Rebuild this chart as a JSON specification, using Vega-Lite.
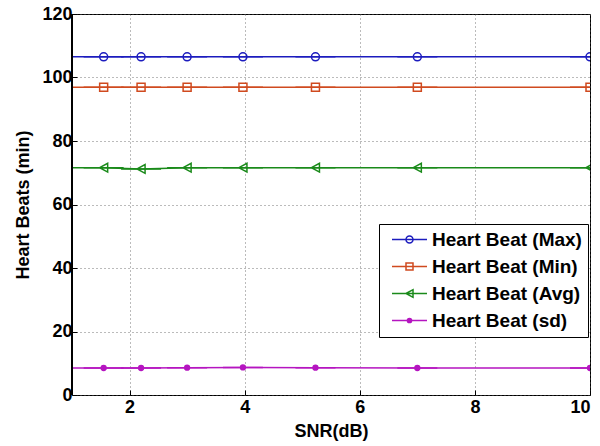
{
  "$schema": "https://vega.github.io/schema/vega-lite/v6.json",
  "width": 518,
  "height": 381,
  "autosize": "none",
  "padding": {"left": 72, "top": 14, "right": 10, "bottom": 51},
  "background": "white",
  "config": {
    "view": {"stroke": "black", "strokeWidth": 1},
    "font": "Liberation Sans",
    "axis": {
      "labelFont": "Liberation Sans", "labelFontWeight": "bold", "labelFontSize": 18, "labelColor": "black",
      "titleFont": "Liberation Sans", "titleFontWeight": "bold", "titleFontSize": 18, "titleColor": "black",
      "domain": false, "tickColor": "black", "tickSize": -5, "tickWidth": 1,
      "gridColor": "#555555", "gridDash": [1, 3], "gridWidth": 1, "gridOpacity": 0.8
    },
    "legend": {
      "orient": "none", "legendX": 307, "legendY": 210,
      "strokeColor": "black", "fillColor": "white", "padding": 6,
      "labelFont": "Liberation Sans", "labelFontWeight": "bold", "labelFontSize": 19, "labelColor": "black",
      "symbolSize": 49, "symbolStrokeWidth": 1.5, "symbolOffset": 15, "labelOffset": 13,
      "rowPadding": 7, "labelLimit": 300
    }
  },
  "data": {
    "values": [
      {"snr": 0.5, "series": "Heart Beat (Max)", "beats": 106.5},
      {"snr": 1.55, "series": "Heart Beat (Max)", "beats": 106.5},
      {"snr": 2.2, "series": "Heart Beat (Max)", "beats": 106.5},
      {"snr": 3.0, "series": "Heart Beat (Max)", "beats": 106.5},
      {"snr": 3.97, "series": "Heart Beat (Max)", "beats": 106.5},
      {"snr": 5.23, "series": "Heart Beat (Max)", "beats": 106.5},
      {"snr": 7.0, "series": "Heart Beat (Max)", "beats": 106.5},
      {"snr": 10.0, "series": "Heart Beat (Max)", "beats": 106.5},
      {"snr": 0.5, "series": "Heart Beat (Min)", "beats": 96.9},
      {"snr": 1.55, "series": "Heart Beat (Min)", "beats": 96.9},
      {"snr": 2.2, "series": "Heart Beat (Min)", "beats": 96.9},
      {"snr": 3.0, "series": "Heart Beat (Min)", "beats": 96.9},
      {"snr": 3.97, "series": "Heart Beat (Min)", "beats": 96.9},
      {"snr": 5.23, "series": "Heart Beat (Min)", "beats": 96.9},
      {"snr": 7.0, "series": "Heart Beat (Min)", "beats": 96.9},
      {"snr": 10.0, "series": "Heart Beat (Min)", "beats": 96.9},
      {"snr": 0.5, "series": "Heart Beat (Avg)", "beats": 71.6},
      {"snr": 1.55, "series": "Heart Beat (Avg)", "beats": 71.6},
      {"snr": 2.2, "series": "Heart Beat (Avg)", "beats": 71.2},
      {"snr": 3.0, "series": "Heart Beat (Avg)", "beats": 71.6},
      {"snr": 3.97, "series": "Heart Beat (Avg)", "beats": 71.6},
      {"snr": 5.23, "series": "Heart Beat (Avg)", "beats": 71.6},
      {"snr": 7.0, "series": "Heart Beat (Avg)", "beats": 71.6},
      {"snr": 10.0, "series": "Heart Beat (Avg)", "beats": 71.6},
      {"snr": 0.5, "series": "Heart Beat (sd)", "beats": 8.5},
      {"snr": 1.55, "series": "Heart Beat (sd)", "beats": 8.5},
      {"snr": 2.2, "series": "Heart Beat (sd)", "beats": 8.5},
      {"snr": 3.0, "series": "Heart Beat (sd)", "beats": 8.6},
      {"snr": 3.97, "series": "Heart Beat (sd)", "beats": 8.7},
      {"snr": 5.23, "series": "Heart Beat (sd)", "beats": 8.6},
      {"snr": 7.0, "series": "Heart Beat (sd)", "beats": 8.5},
      {"snr": 10.0, "series": "Heart Beat (sd)", "beats": 8.5}
    ]
  },
  "encoding": {
    "x": {
      "field": "snr", "type": "quantitative",
      "scale": {"domain": [1, 10], "nice": false, "zero": false},
      "axis": {"title": "SNR(dB)", "values": [2, 4, 6, 8, 10], "labelPadding": 8, "titlePadding": 6}
    },
    "y": {
      "field": "beats", "type": "quantitative",
      "scale": {"domain": [0, 120], "nice": false},
      "axis": {"title": "Heart Beats (min)", "values": [0, 20, 40, 60, 80, 100, 120], "labelPadding": 5, "titlePadding": 9}
    },
    "color": {
      "field": "series", "type": "nominal",
      "scale": {
        "domain": ["Heart Beat (Max)", "Heart Beat (Min)", "Heart Beat (Avg)", "Heart Beat (sd)"],
        "range": ["#1c1cbe", "#d04a1f", "#1a8a1a", "#b515c0"]
      },
      "legend": {"title": null}
    }
  },
  "layer": [
    {
      "mark": {"type": "line", "strokeWidth": 1.5, "clip": true}
    },
    {
      "mark": {"type": "point", "filled": false, "size": 64, "strokeWidth": 1.5, "opacity": 1, "clip": true},
      "encoding": {
        "shape": {
          "field": "series", "type": "nominal",
          "scale": {
            "domain": ["Heart Beat (Max)", "Heart Beat (Min)", "Heart Beat (Avg)", "Heart Beat (sd)"],
            "range": [
              "M-5,0H5M1,0A1,1,0,1,1,-1,0A1,1,0,1,1,1,0Z",
              "M-5,0H5M-1,-1H1V1H-1Z",
              "M-5,0H5M-1,0L1,-1.1V1.1Z",
              "M-5,0H5M0.6,0A0.6,0.6,0,1,1,-0.6,0A0.6,0.6,0,1,1,0.6,0Z"
            ]
          },
          "legend": {"title": null}
        },
        "fill": {
          "field": "series", "type": "nominal",
          "scale": {
            "domain": ["Heart Beat (Max)", "Heart Beat (Min)", "Heart Beat (Avg)", "Heart Beat (sd)"],
            "range": ["transparent", "transparent", "transparent", "#b515c0"]
          },
          "legend": {"title": null}
        }
      }
    },
    {
      "mark": {"type": "rule", "color": "black"},
      "encoding": {"x": {"datum": 1}, "y": {"value": 0}, "y2": {"value": 381}, "color": {"value": "black"}}
    }
  ]
}
